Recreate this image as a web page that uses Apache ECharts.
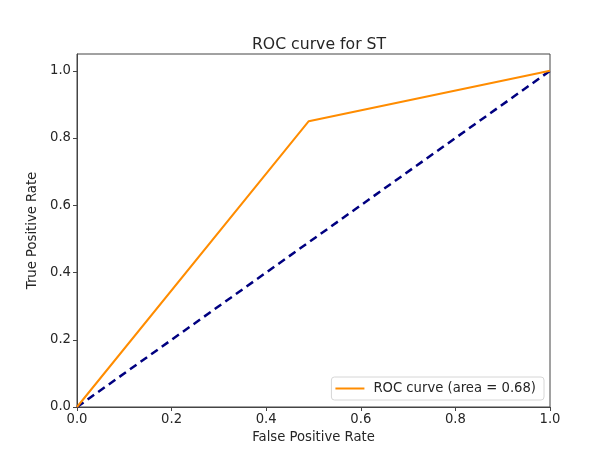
<!DOCTYPE html>
<html>
<head>
<meta charset="utf-8">
<script src="https://cdn.jsdelivr.net/npm/echarts@6/dist/echarts.min.js"></script>
<style>
  html, body { margin: 0; padding: 0; background: #fff; }
  #chart { width: 610px; height: 457px; }
</style>
</head>
<body>
<div id="chart"></div>
<script>
const fpr = [0, 0.49, 1];
const tpr = [0, 0.85, 1];
const chanceX = [0, 1];
const chanceY = [0, 1];
const rocLabel = 'ROC curve (area = 0.68)';

const FONT = "'DejaVu Sans', sans-serif";
const pairs = (xs, ys) => xs.map((x, i) => [x, ys[i]]);

const chart = echarts.init(document.getElementById('chart'));
chart.setOption({
  animation: false,
  textStyle: { fontFamily: FONT, color: '#262626' },
  title: {
    text: 'ROC curve for ST',
    left: 314,
    textAlign: 'center',
    top: 32,
    textStyle: { fontFamily: FONT, fontSize: 15.7, fontWeight: 'normal', color: '#262626' },
  },
  grid: {
    left: 77, right: 60, top: 54, bottom: 50,
    show: true, borderColor: '#444', borderWidth: 1, backgroundColor: 'transparent',
  },
  legend: {
    data: [rocLabel],
    right: 66,
    bottom: 57,
    orient: 'vertical',
    icon: 'rect',
    itemWidth: 29,
    itemHeight: 2,
    padding: [5, 8, 5, 4],
    borderColor: '#d6d6d6',
    borderWidth: 1,
    borderRadius: 3,
    textStyle: { fontFamily: FONT, fontSize: 13.2, color: '#262626', padding: [0, 0, 0, 4] },
  },
  xAxis: {
    type: 'value',
    min: 0, max: 1, interval: 0.2,
    name: 'False Positive Rate',
    nameLocation: 'middle',
    nameGap: 24,
    nameTextStyle: { fontFamily: FONT, fontSize: 13.2, color: '#262626' },
    splitLine: { show: false },
    axisLine: { show: true, lineStyle: { color: '#444' } },
    axisTick: { show: true, length: 4, lineStyle: { color: '#444' } },
    axisLabel: { fontFamily: FONT, fontSize: 13.2, color: '#262626', margin: 6,
      formatter: v => v.toFixed(1) },
  },
  yAxis: {
    type: 'value',
    min: 0, max: 1.05, interval: 0.2,
    name: 'True Positive Rate',
    nameLocation: 'middle',
    nameGap: 38,
    nameTextStyle: { fontFamily: FONT, fontSize: 13.2, color: '#262626' },
    splitLine: { show: false },
    axisLine: { show: true, lineStyle: { color: '#444' } },
    axisTick: { show: true, length: 4, lineStyle: { color: '#444' } },
    axisLabel: { fontFamily: FONT, fontSize: 13.2, color: '#262626', margin: 6,
      showMaxLabel: false,
      formatter: v => (Math.abs(v * 5 - Math.round(v * 5)) < 1e-6 ? v.toFixed(1) : '') },
  },
  series: [
    {
      name: rocLabel,
      type: 'line',
      data: pairs(fpr, tpr),
      showSymbol: false,
      lineStyle: { color: '#ff8c00', width: 2 },
      itemStyle: { color: '#ff8c00' },
      z: 3,
    },
    {
      name: 'chance',
      type: 'line',
      data: pairs(chanceX, chanceY),
      showSymbol: false,
      lineStyle: { color: '#000080', width: 2.5, type: [8, 5] },
      itemStyle: { color: '#000080' },
      z: 2,
    },
  ],
});
</script>
</body>
</html>
